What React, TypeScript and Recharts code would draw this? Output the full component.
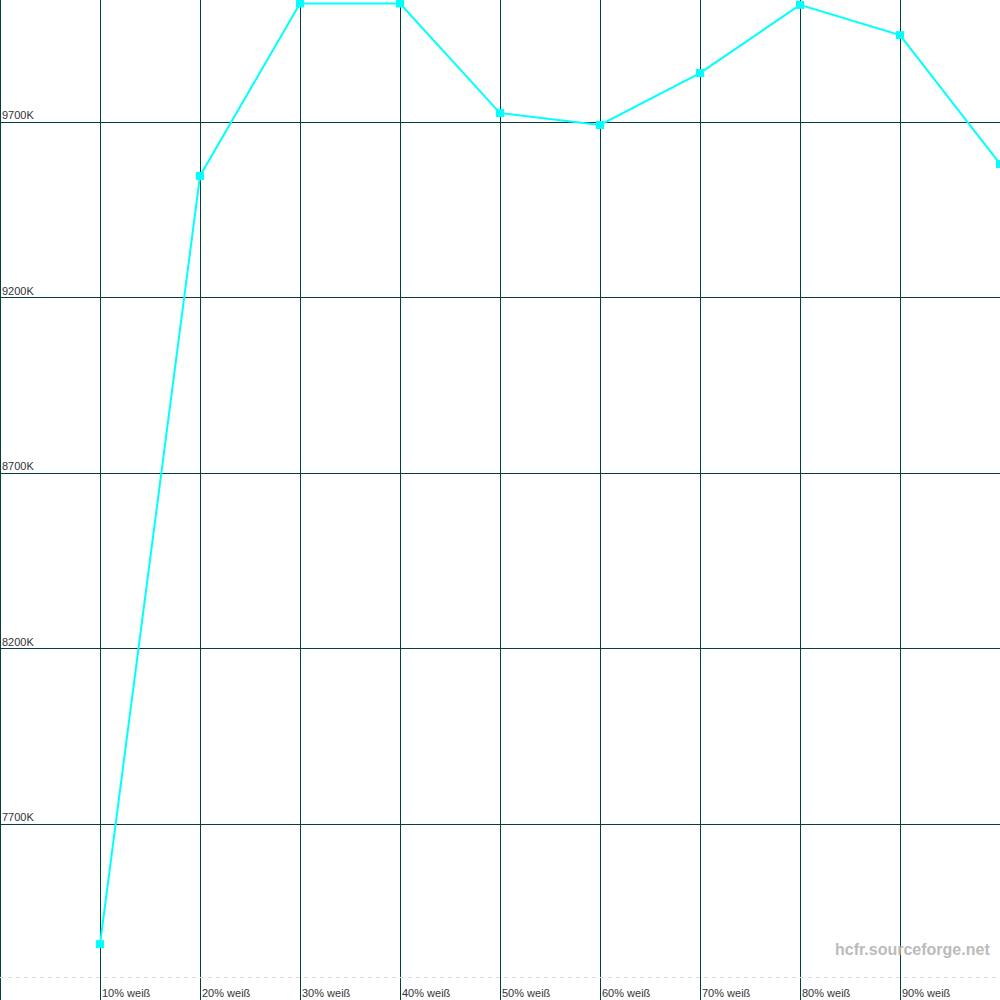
import { LineChart, Line, XAxis, YAxis, CartesianGrid, ReferenceLine } from 'recharts'

const levels = [10, 20, 30, 40, 50, 60, 70, 80, 90, 100]
const colorTemp = [7359, 9547, 10038, 10038, 9726, 9692, 9840, 10034, 9948, 9581]
const xTicks = [0, 10, 20, 30, 40, 50, 60, 70, 80, 90]
const yTicks = [7700, 8200, 8700, 9200, 9700]
const referenceTemp = 7265

const data = levels.map((level, i) => ({ level, temp: colorTemp[i] }))

const labelStyle = { fontSize: 11, fill: '#333', fontFamily: 'Liberation Sans, Arial, sans-serif' }

function XTick({ x, y, payload }: any) {
  if (payload.value === 0) return null
  return (
    <text x={x + 2} y={y - 3} style={labelStyle}>
      {`${payload.value}% weiß`}
    </text>
  )
}

function YTick({ x, y, payload }: any) {
  return (
    <text x={x + 2} y={y - 3} style={labelStyle}>
      {`${payload.value}K`}
    </text>
  )
}

function SquareDot({ cx, cy }: any) {
  if (cx == null || cy == null) return null
  return <rect x={cx - 4} y={cy - 4} width={8} height={8} fill="#00ffff" />
}

export default function App() {
  return (
    <div style={{ position: 'absolute', left: 0, top: 0, width: 1000, height: 1000, background: '#fff' }}>
      <LineChart width={1000} height={1000} data={data} margin={{ top: 0, right: 0, bottom: 0, left: 0 }}>
        <CartesianGrid stroke="#004040" strokeWidth={1} syncWithTicks shapeRendering="crispEdges" />
        <XAxis
          dataKey="level"
          type="number"
          domain={[0, 100]}
          ticks={xTicks}
          mirror
          axisLine={false}
          tickLine={false}
          tickSize={0}
          tickMargin={0}
          tick={<XTick />}
          interval={0}
        />
        <YAxis
          type="number"
          domain={[7200, 10048]}
          ticks={yTicks}
          mirror
          axisLine={false}
          tickLine={false}
          tickSize={0}
          tickMargin={0}
          tick={<YTick />}
          interval={0}
          allowDataOverflow
        />
        <ReferenceLine y={referenceTemp} stroke="#dddddd" strokeDasharray="4 4" shapeRendering="crispEdges" />
        <Line
          dataKey="temp"
          stroke="#00ffff"
          strokeWidth={2}
          dot={<SquareDot />}
          activeDot={false}
          isAnimationActive={false}
        />
      </LineChart>
      <div
        style={{
          position: 'absolute',
          left: 835,
          top: 941,
          fontFamily: 'Liberation Sans, Arial, sans-serif',
          fontWeight: 'bold',
          fontSize: 16,
          color: '#bbbbbb',
        }}
      >
        hcfr.sourceforge.net
      </div>
    </div>
  )
}
